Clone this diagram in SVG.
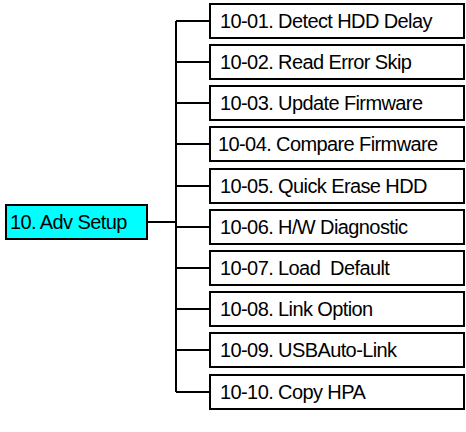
<svg xmlns="http://www.w3.org/2000/svg" width="466" height="432" viewBox="0 0 466 432">
<style>
.box{fill:#ffffff;stroke:#000000;stroke-width:2}
.root{fill:#00ffff;stroke:#000000;stroke-width:2}
.lbl{font-family:"Liberation Sans",Arial,sans-serif;font-size:20px;fill:#000000;letter-spacing:-0.6px}
.ln{fill:none;stroke:#000000;stroke-width:2}
</style>
<rect x="0" y="0" width="466" height="432" fill="#ffffff"/>
<g id="connectors">
<path class="ln" d="M147 222 H176 M176 21 V392"/>
<path class="ln" d="M176 21 H210 M176 62 H210 M176 103 H210 M176 144 H210 M176 186 H210 M176 227 H210 M176 268 H210 M176 309 H210 M176 350 H210 M176 392 H210"/>
</g>
<g id="n10"><rect class="root" x="6" y="205" width="141" height="34"/><text class="lbl" x="10" y="229">10. Adv Setup</text></g>
<g id="n1001"><rect class="box" x="210" y="4" width="254" height="34"/><text class="lbl" x="220" y="28">10-01. Detect HDD Delay</text></g>
<g id="n1002"><rect class="box" x="210" y="45" width="254" height="34"/><text class="lbl" x="220" y="69">10-02. Read Error Skip</text></g>
<g id="n1003"><rect class="box" x="210" y="86" width="254" height="34"/><text class="lbl" x="220" y="110">10-03. Update Firmware</text></g>
<g id="n1004"><rect class="box" x="210" y="127" width="254" height="34"/><text class="lbl" x="218" y="151">10-04. Compare Firmware</text></g>
<g id="n1005"><rect class="box" x="210" y="169" width="254" height="34"/><text class="lbl" x="220" y="193">10-05. Quick Erase HDD</text></g>
<g id="n1006"><rect class="box" x="210" y="210" width="254" height="34"/><text class="lbl" x="220" y="234">10-06. H/W Diagnostic</text></g>
<g id="n1007"><rect class="box" x="210" y="251" width="254" height="34"/><text class="lbl" x="220" y="275" xml:space="preserve">10-07. Load  Default</text></g>
<g id="n1008"><rect class="box" x="210" y="292" width="254" height="34"/><text class="lbl" x="220" y="316">10-08. Link Option</text></g>
<g id="n1009"><rect class="box" x="210" y="333" width="254" height="34"/><text class="lbl" x="220" y="357">10-09. USBAuto-Link</text></g>
<g id="n1010"><rect class="box" x="210" y="375" width="254" height="34"/><text class="lbl" x="220" y="399">10-10. Copy HPA</text></g>
</svg>
